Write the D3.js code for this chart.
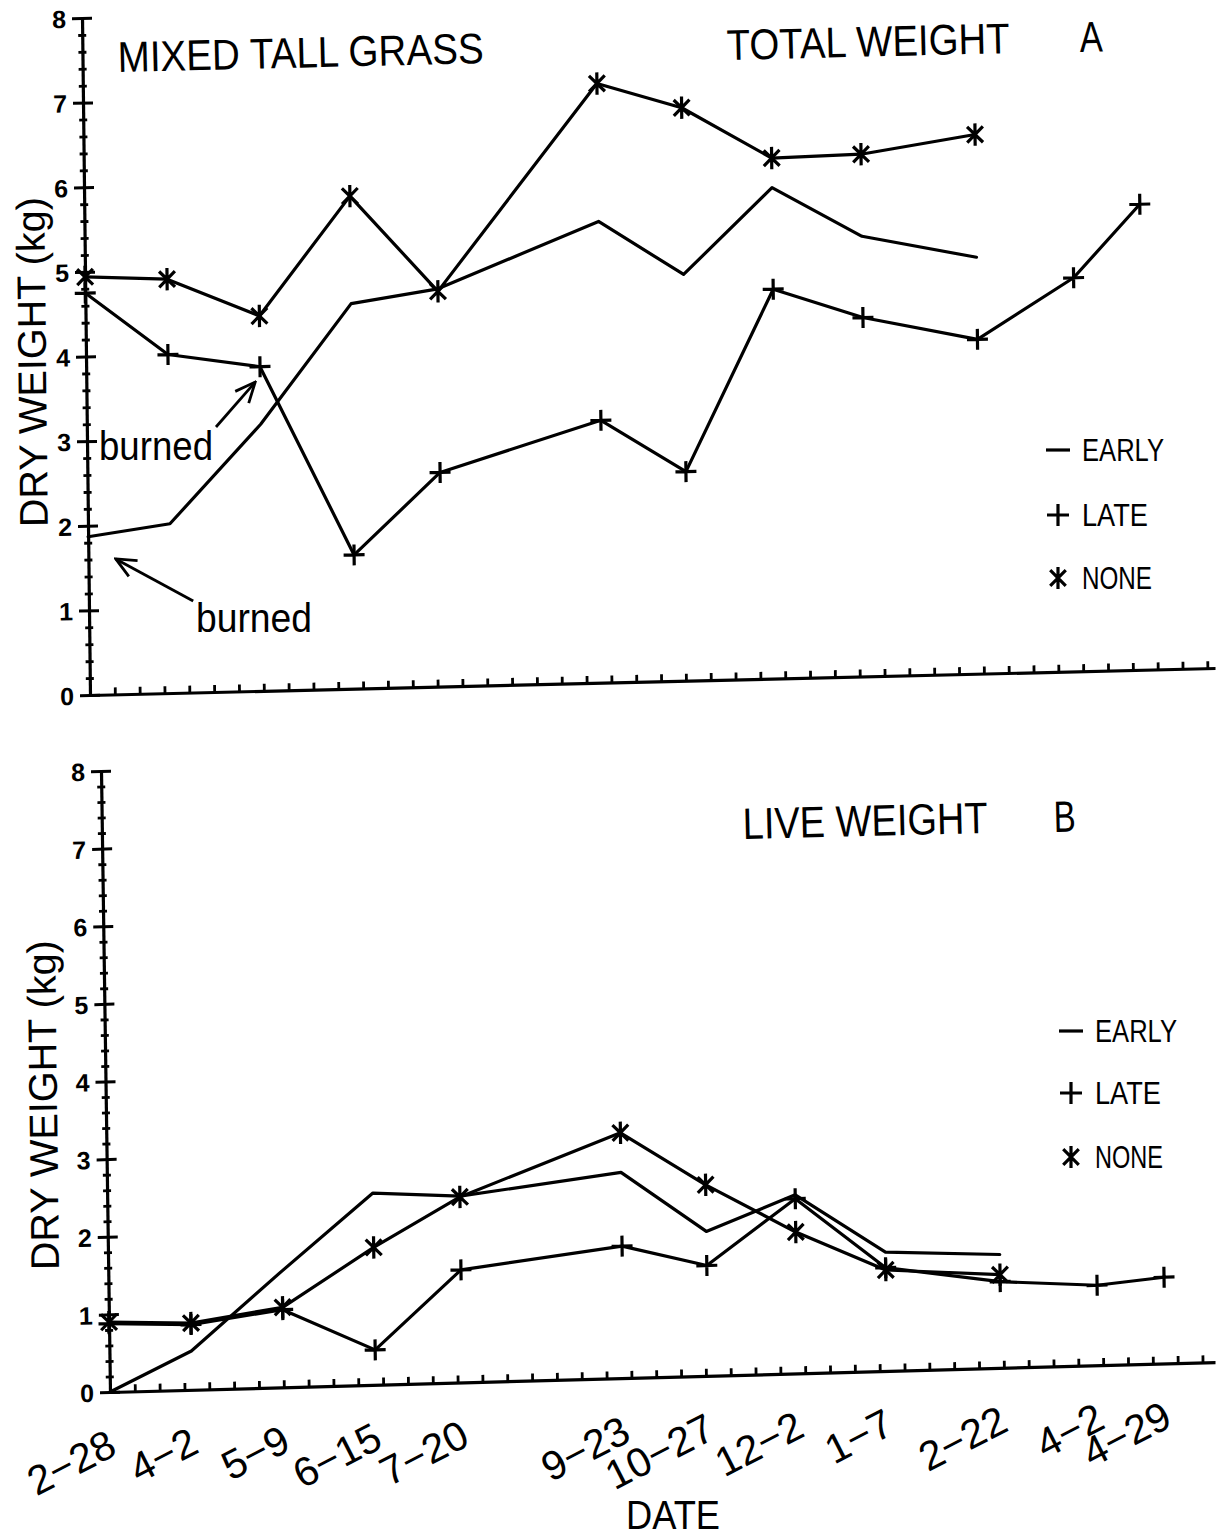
<!DOCTYPE html>
<html>
<head>
<meta charset="utf-8">
<script src="https://cdn.jsdelivr.net/npm/d3@7"></script>
<style>
  body { margin: 0; background: #fff; }
  svg { display: block; }
  text { font-family: "Liberation Sans", Arial, Helvetica, sans-serif; fill: #000; }
  .narrow { font-family: "Liberation Sans Narrow", "Liberation Sans", Arial, sans-serif; }
</style>
</head>
<body>
<svg id="chart" width="1224" height="1539"></svg>
<script>
// sampling dates (two seasons) and the labels printed under the axis
const dates = ['1986-02-28', '1986-04-02', '1986-05-09', '1986-06-15', '1986-07-20', '1986-09-23',
               '1986-10-27', '1986-12-02', '1987-01-07', '1987-02-22', '1987-04-02', '1987-04-29'];
const dateLabels = ['2-28', '4-2', '5-9', '6-15', '7-20', '9-23', '10-27', '12-2', '1-7', '2-22', '4-2', '4-29'];

const burnNames = ['EARLY', 'LATE', 'NONE'];

// A: total weight (kg)
const totalEarly = [1.87, 2.0, 3.15, 4.55, 4.7, 5.45, 4.8, 5.8, 5.2, 4.92, null, null];
const totalLate  = [4.75, 4.0, 3.83, 1.58, 2.53, 3.1, 2.47, 4.6, 4.24, 3.95, 4.65, 5.5];
const totalNone  = [4.94, 4.89, 4.43, 5.82, 4.67, 7.08, 6.77, 6.15, 6.17, 6.37, null, null];

// B: live weight (kg)
const liveEarly = [0.0, 0.5, 1.5, 2.47, 2.4, 2.65, 1.86, 2.3, 1.53, 1.46, null, null];
const liveLate  = [0.88, 0.84, 1.0, 0.45, 1.45, 1.7, 1.42, 2.25, 1.33, 1.11, 1.03, 1.11];
const liveNone  = [0.9, 0.86, 1.03, 1.77, 2.39, 3.16, 2.46, 1.82, 1.3, 1.2, null, null];

const yTicks = [0, 1, 2, 3, 4, 5, 6, 7, 8];

// "burned" arrows in panel A, [days after 2-28, kg]
const burnArrows = [
  { from: [52, 3.13], to: [68, 3.65] },
  { from: [42, 1.08], to: [11, 1.6] }
];

const parseDay = d3.utcParse('%Y-%m-%d');
const days = dates.map(parseDay);
const t0 = days[0];
const PX_PER_DAY = 2.483;

const svg = d3.select('#chart');

// open arrow head
svg.append('defs').append('marker')
  .attr('id', 'arrow')
  .attr('viewBox', '0 0 24 24')
  .attr('refX', 22).attr('refY', 12)
  .attr('markerWidth', 24).attr('markerHeight', 24)
  .attr('markerUnits', 'userSpaceOnUse')
  .attr('orient', 'auto')
  .append('path')
  .attr('d', 'M2,3 L22,12 L2,21')
  .attr('fill', 'none').attr('stroke', '#000').attr('stroke-width', 2.8);

// plotter style symbols
const plusSym = {
  draw(c, s) {
    const r = Math.sqrt(s) / 2;
    c.moveTo(-r, 0); c.lineTo(r, 0);
    c.moveTo(0, -r); c.lineTo(0, r);
  }
};
const starSym = {
  draw(c, s) {
    const r = Math.sqrt(s) / 2;
    const a = r * Math.cos(45 * Math.PI / 180), b = r * Math.sin(45 * Math.PI / 180);
    c.moveTo(0, -r); c.lineTo(0, r);
    c.moveTo(-a, -b); c.lineTo(a, b);
    c.moveTo(-a, b); c.lineTo(a, -b);
  }
};
const dashSym = {
  draw(c, s) {
    const r = Math.sqrt(s) / 2;
    c.moveTo(-r, 0); c.lineTo(r, 0);
  }
};
const symTypes = [null, plusSym, starSym];
const legendTypes = [dashSym, plusSym, starSym];

// the scan is slightly skewed, so each panel gets its own affine frame
const panels = [
  { id: 'A', series: [totalEarly, totalLate, totalNone], matrix: [1, -0.024, 0.0118, 1, 90, 695], len: 1125, h: 677 },
  { id: 'B', series: [liveEarly, liveLate, liveNone], matrix: [1, -0.0271, 0.0145, 1, 110, 1392], len: 1105, h: 621 }
];

panels.forEach((p, pi) => {
  const g = svg.append('g').attr('transform', `matrix(${p.matrix.join(',')})`);

  const x = d3.scaleUtc()
    .domain([t0, new Date(t0.getTime() + p.len / PX_PER_DAY * 864e5)])
    .range([0, p.len]);
  const y = d3.scaleLinear().domain([0, 8]).range([0, -p.h]);

  // x axis: small ticks every 10 days
  const xTicks = d3.range(0, p.len / PX_PER_DAY, 10).map(d => d3.utcDay.offset(t0, d));
  const xAxis = g.append('g')
    .call(d3.axisBottom(x).tickValues(xTicks).tickSize(-7).tickSizeOuter(0).tickFormat(''));
  xAxis.select('.domain').attr('stroke-width', 3.2);
  xAxis.selectAll('.tick line').attr('stroke-width', 2.8);

  // y axis minor ticks
  const minor = d3.range(0, 8.001, 0.2).filter(v => Math.abs(v - Math.round(v)) > 0.01);
  const yMinor = g.append('g')
    .call(d3.axisLeft(y).tickValues(minor).tickSize(4).tickSizeOuter(0).tickFormat(''));
  yMinor.select('.domain').remove();
  yMinor.selectAll('.tick line').attr('x1', 4).attr('stroke-width', 2.8);

  // y axis major ticks
  const yAxis = g.append('g')
    .call(d3.axisLeft(y).tickValues(yTicks).tickSize(10).tickPadding(6).tickSizeOuter(0).tickFormat(d3.format('d')));
  yAxis.select('.domain').attr('stroke-width', 3.2);
  yAxis.selectAll('.tick line').attr('x1', 10).attr('stroke-width', 3);
  yAxis.selectAll('.tick text')
    .attr('font-size', 25).attr('font-weight', 'bold')
    .attr('font-family', '"Liberation Sans", Arial, sans-serif')
    .attr('dy', '0.36em');

  // series lines and symbols
  p.series.forEach((vals, si) => {
    const pts = vals.map((v, i) => ({ date: days[i], v })).filter(d => d.v != null);
    g.append('path')
      .datum(pts)
      .attr('fill', 'none')
      .attr('stroke', '#000')
      .attr('stroke-width', 3.2)
      .attr('stroke-linejoin', 'round')
      .attr('stroke-linecap', 'round')
      .attr('d', d3.line().x(d => x(d.date)).y(d => y(d.v)));

    if (symTypes[si]) {
      g.selectAll(null)
        .data(pts)
        .enter().append('path')
        .attr('transform', d => `translate(${x(d.date)},${y(d.v)})`)
        .attr('d', d3.symbol().type(symTypes[si]).size(si === 2 ? 500 : 440))
        .attr('fill', 'none')
        .attr('stroke', '#000')
        .attr('stroke-width', 3.2);
    }
  });

  if (pi === 0) {
    burnArrows.forEach(a => {
      g.append('line')
        .attr('x1', x(d3.utcDay.offset(t0, a.from[0]))).attr('y1', y(a.from[1]))
        .attr('x2', x(d3.utcDay.offset(t0, a.to[0]))).attr('y2', y(a.to[1]))
        .attr('stroke', '#000').attr('stroke-width', 2.8)
        .attr('marker-end', 'url(#arrow)');
    });
  }

  if (pi === 1) {
    // date labels under the lower panel
    g.selectAll(null)
      .data(dateLabels)
      .enter().append('text')
      .attr('transform', (d, i) => `translate(${x(days[i]) + 8},62) rotate(-26)`)
      .attr('text-anchor', 'end')
      .attr('font-size', 41)
      .text(d => d.replace('-', '\u2212'));
  }
});

// titles, legends and axis titles (screen coordinates)
function label(txt, xp, yp, size, len, opts = {}) {
  const t = svg.append('text')
    .attr('class', 'narrow')
    .attr('x', xp).attr('y', yp)
    .attr('font-size', size)
    .attr('text-anchor', opts.anchor || 'start')
    .attr('transform', opts.transform || `rotate(-1.4,${xp},${yp})`)
    .text(txt);
  if (len) t.attr('textLength', len).attr('lengthAdjust', 'spacingAndGlyphs');
  return t;
}

label('MIXED TALL GRASS', 118, 72, 43, 366);
label('TOTAL WEIGHT', 727, 60, 43, 283);
label('A', 1080, 52, 43, 23);
label('LIVE WEIGHT', 743, 839, 44, 245);
label('B', 1054, 832, 44, 22);

label('DRY WEIGHT (kg)', 46, 362, 40, 330, { anchor: 'middle', transform: 'rotate(-90.6,46,362)' });
label('DRY WEIGHT (kg)', 57, 1105, 40, 330, { anchor: 'middle', transform: 'rotate(-90.7,57,1105)' });
label('DATE', 673, 1529, 40, 94, { anchor: 'middle', transform: 'rotate(0)' });

svg.append('text').attr('x', 99).attr('y', 460).attr('font-size', 40)
  .attr('textLength', 114).attr('lengthAdjust', 'spacingAndGlyphs').text('burned');
svg.append('text').attr('x', 196).attr('y', 632).attr('font-size', 40)
  .attr('textLength', 116).attr('lengthAdjust', 'spacingAndGlyphs').text('burned');

// legends
const legends = [
  { sx: 1058, tx: 1082, ys: [450, 515, 578], lens: [82, 66, 70] },
  { sx: 1071, tx: 1095, ys: [1031, 1093, 1157], lens: [82, 66, 68] }
];
legends.forEach(L => {
  burnNames.forEach((name, i) => {
    svg.append('path')
      .attr('transform', `translate(${L.sx},${L.ys[i]})`)
      .attr('d', d3.symbol().type(legendTypes[i]).size(i === 0 ? 576 : 484))
      .attr('fill', 'none').attr('stroke', '#000').attr('stroke-width', 3.2);
    label(name, L.tx, L.ys[i] + 11, 31, L.lens[i], { transform: 'rotate(0)' });
  });
});
</script>
</body>
</html>
